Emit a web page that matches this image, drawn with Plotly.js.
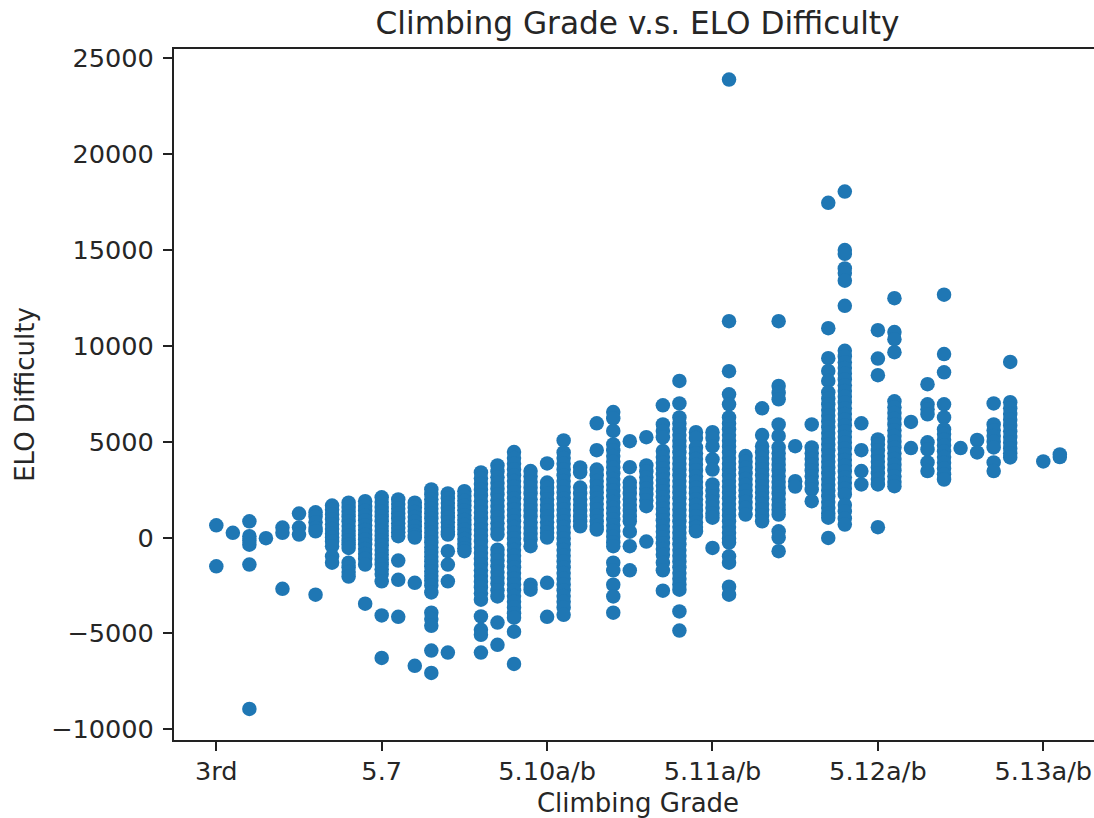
<!DOCTYPE html>
<html><head><meta charset="utf-8">
<script src="https://cdn.plot.ly/plotly-3.0.1.min.js"></script>
<style>html,body{margin:0;padding:0;background:#fff;overflow:hidden;width:1094px;height:818px}</style>
</head><body><div id="chart"></div>
<script>
const tickValues = [0, 10, 20, 30, 40, 50];
const tickLabels = ['3rd', '5.7', '5.10a/b', '5.11a/b', '5.12a/b', '5.13a/b'];
const g0 = [640, -1500];
const g1 = [250];
const g2 = [850, 70, -150, -370, -1410, -8940];
const g3 = [-30];
const g4 = [520, 250, -2670];
const g5 = [1250, 520, 160];
const g6 = [1320, 1100, 800, 500, 330, -2980];
const g7 = [1670, 1450, 1200, 950, 700, 450, 200, 0, -200, -450, -980, -1310];
const g8 = [1820, 1600, 1350, 1100, 850, 600, 350, 100, -150, -350, -540, -1310, -1550, -1800, -2030];
const g9 = [1900, 1650, 1400, 1150, 900, 650, 400, 150, -100, -350, -600, -850, -1100, -1410, -3450];
const g10 = [2100, 1850, 1600, 1350, 1100, 850, 600, 350, 100, -150, -400, -650, -900, -1150, -1400, -1650, -1900, -2280, -4060, -6280];
const g11 = [1990, 1750, 1500, 1250, 1000, 750, 500, 280, 70, -1200, -2200, -4130];
const g12 = [1820, 1580, 1330, 1080, 830, 580, 330, 130, 0, -2360, -6690];
const g13 = [2510, 2250, 2000, 1750, 1500, 1250, 1000, 750, 500, 250, 0, -250, -500, -750, -1000, -1250, -1500, -1750, -2000, -2250, -2500, -2860, -3920, -4250, -4600, -5890, -7060];
const g14 = [2300, 2050, 1800, 1550, 1300, 1050, 800, 550, 300, 160, -710, -1410, -2280, -6000];
const g15 = [2420, 2170, 1920, 1670, 1420, 1170, 920, 670, 420, 170, -80, -330, -550, -710];
const g16 = [3400, 3100, 2800, 2500, 2200, 1900, 1600, 1300, 1000, 700, 400, 100, -200, -500, -800, -1100, -1400, -1700, -2000, -2300, -2600, -2900, -3240, -4110, -4810, -5070, -6000];
const g17 = [3760, 3450, 3150, 2850, 2550, 2250, 1950, 1650, 1350, 1050, 750, 450, 160, -630, -900, -1200, -1500, -1800, -2100, -2400, -2750, -3070, -4430, -5590];
const g18 = [4460, 4150, 3850, 3550, 3250, 2950, 2650, 2350, 2050, 1750, 1450, 1150, 850, 550, 250, -50, -350, -650, -950, -1250, -1550, -1850, -2150, -2450, -2750, -3050, -3350, -3650, -3950, -4180, -4910, -6590];
const g19 = [3470, 3200, 2900, 2600, 2300, 2000, 1700, 1400, 1100, 800, 500, 200, -100, -450, -2460, -2720];
const g20 = [3870, 2870, 2600, 2300, 2000, 1700, 1400, 1100, 800, 500, 250, 0, -2360, -4130];
const g21 = [5070, 4440, 4150, 3850, 3550, 3250, 2950, 2650, 2350, 2050, 1750, 1450, 1150, 850, 550, 250, -50, -350, -650, -950, -1250, -1550, -1850, -2150, -2450, -2750, -3050, -3350, -3650, -4030];
const g22 = [3660, 3400, 2610, 2300, 2000, 1700, 1400, 1100, 850, 590];
const g23 = [5960, 4560, 3550, 3250, 2950, 2650, 2350, 2050, 1750, 1450, 1150, 850, 600, 420];
const g24 = [6550, 6220, 5560, 4860, 4550, 4250, 3950, 3650, 3350, 3050, 2750, 2450, 2150, 1850, 1550, 1250, 950, 650, 350, 50, -250, -450, -1310, -1710, -2460, -3070, -3920];
const g25 = [5030, 3670, 2870, 2600, 2300, 2000, 1700, 1400, 1100, 850, 310, -450, -1710];
const g26 = [5240, 3760, 3450, 3150, 2850, 2550, 2250, 1950, 1640, -210];
const g27 = [6900, 5900, 5560, 5230, 4510, 4200, 3900, 3600, 3300, 3000, 2700, 2400, 2100, 1800, 1500, 1200, 900, 600, 300, 0, -300, -600, -900, -1310, -1710, -2770];
const g28 = [8170, 7000, 6270, 5950, 5650, 5350, 5050, 4750, 4450, 4150, 3850, 3550, 3250, 2950, 2650, 2350, 2050, 1750, 1450, 1150, 850, 550, 250, -50, -350, -650, -950, -1250, -1550, -1850, -2150, -2450, -2720, -3850, -4850];
const g29 = [5500, 5200, 4700, 4400, 4100, 3800, 3500, 3200, 2900, 2600, 2300, 2000, 1700, 1400, 1100, 800, 550, 330];
const g30 = [5500, 5200, 4770, 4080, 3550, 2770, 2450, 2150, 1850, 1550, 1250, 1040, -540];
const g31 = [23890, 11290, 8680, 7475, 6950, 6270, 5950, 5650, 5350, 5050, 4750, 4450, 4150, 3850, 3550, 3250, 2950, 2650, 2350, 2050, 1750, 1450, 1150, 850, 550, 250, -50, -260, -980, -1310, -2560, -2980];
const g32 = [4250, 3950, 3650, 3350, 3050, 2750, 2450, 2150, 1850, 1550, 1200];
const g33 = [6740, 5350, 4770, 4450, 4150, 3850, 3550, 3250, 2950, 2650, 2350, 2050, 1750, 1450, 1150, 850];
const g34 = [11290, 7910, 7560, 7210, 5900, 5300, 4700, 4400, 4100, 3800, 3500, 3200, 2900, 2600, 2300, 2000, 1700, 1450, 1200, 330, 0, -710];
const g35 = [4770, 2940, 2660];
const g36 = [5900, 4700, 4400, 4100, 3800, 3500, 3200, 2850, 2510, 1900];
const g37 = [17460, 10920, 9360, 8690, 8170, 7580, 7250, 6950, 6650, 6350, 6050, 5750, 5450, 5150, 4850, 4550, 4250, 3950, 3650, 3350, 3050, 2750, 2450, 2150, 1850, 1550, 1250, 1040, -20];
const g38 = [18050, 15000, 14800, 14040, 13800, 13400, 12090, 9740, 9450, 9150, 8850, 8550, 8250, 7950, 7650, 7350, 7050, 6750, 6450, 6150, 5850, 5550, 5250, 4950, 4650, 4350, 4050, 3750, 3450, 3150, 2850, 2550, 2250, 1700, 1370, 1000, 680];
const g39 = [5960, 4560, 3470, 2770];
const g40 = [10820, 9340, 8470, 5120, 4850, 4550, 4250, 3950, 3650, 3350, 3050, 2770, 540];
const g41 = [12490, 10720, 10350, 9670, 7110, 6800, 6500, 6200, 5900, 5600, 5300, 5000, 4700, 4400, 4100, 3800, 3500, 3200, 2900, 2680];
const g42 = [6030, 4670];
const g43 = [8000, 6950, 6700, 6430, 4970, 4600, 3920, 3470];
const g44 = [12670, 9570, 8620, 6950, 6270, 5650, 5400, 5100, 4800, 4500, 4200, 3900, 3600, 3300, 3030];
const g45 = [4670];
const g46 = [5090, 4440];
const g47 = [7000, 5900, 5600, 5300, 5000, 4700, 3920, 3470];
const g48 = [9160, 7060, 6750, 6450, 6150, 5850, 5550, 5250, 4950, 4650, 4400, 4180];
const g50 = [3970];
const g51 = [4340, 4200];

const columns = [[0,g0],[1,g1],[2,g2],[3,g3],[4,g4],[5,g5],[6,g6],[7,g7],[8,g8],[9,g9],[10,g10],
  [11,g11],[12,g12],[13,g13],[14,g14],[15,g15],[16,g16],[17,g17],[18,g18],[19,g19],[20,g20],
  [21,g21],[22,g22],[23,g23],[24,g24],[25,g25],[26,g26],[27,g27],[28,g28],[29,g29],[30,g30],
  [31,g31],[32,g32],[33,g33],[34,g34],[35,g35],[36,g36],[37,g37],[38,g38],[39,g39],[40,g40],
  [41,g41],[42,g42],[43,g43],[44,g44],[45,g45],[46,g46],[47,g47],[48,g48],[50,g50],[51,g51]];
const xs = [], ys = [];
columns.forEach(([c, vals]) => vals.forEach(v => { xs.push(c); ys.push(v); }));

const ink = '#262626';
const font = {family: 'DejaVu Sans', size: 25.6, color: ink};
const axisCommon = {showgrid: false, zeroline: false, showline: true, mirror: true,
  linecolor: '#222', linewidth: 2, ticks: 'outside', ticklen: 9, tickwidth: 2, tickcolor: '#222', tickfont: font};

Plotly.newPlot('chart', [{
  x: xs, y: ys, type: 'scatter', mode: 'markers',
  marker: {color: '#1f77b4', size: 14.5, line: {width: 0}}, hoverinfo: 'skip'
}], {
  width: 1102, height: 818, paper_bgcolor: '#fff', plot_bgcolor: '#fff',
  margin: {l: 174, r: 0, t: 49, b: 78, pad: 0},
  showlegend: false,
  title: {text: 'Climbing Grade v.s. ELO Difficulty', font: {family: 'DejaVu Sans', size: 31.2, color: ink},
    x: 0.4995, xanchor: 'center', xref: 'paper', y: 1 - 23 / 818, yanchor: 'middle', yref: 'container'},
  xaxis: Object.assign({}, axisCommon, {range: [-2.558, 53.55], tickmode: 'array', ticklabelstandoff: -2, tickvals: tickValues, ticktext: tickLabels,
    title: {text: 'Climbing Grade', font: {family: 'DejaVu Sans', size: 26, color: ink}, standoff: 11}}),
  yaxis: Object.assign({}, axisCommon, {range: [-10558, 25485], tickmode: 'array', ticklabelstandoff: 4,
    tickvals: [-10000, -5000, 0, 5000, 10000, 15000, 20000, 25000],
    ticktext: ['−10000', '−5000', '0', '5000', '10000', '15000', '20000', '25000'],
    title: {text: 'ELO Difficulty', font: {family: 'DejaVu Sans', size: 26, color: ink}, standoff: 9}})
}, {displayModeBar: false, staticPlot: true});
</script></body></html>
